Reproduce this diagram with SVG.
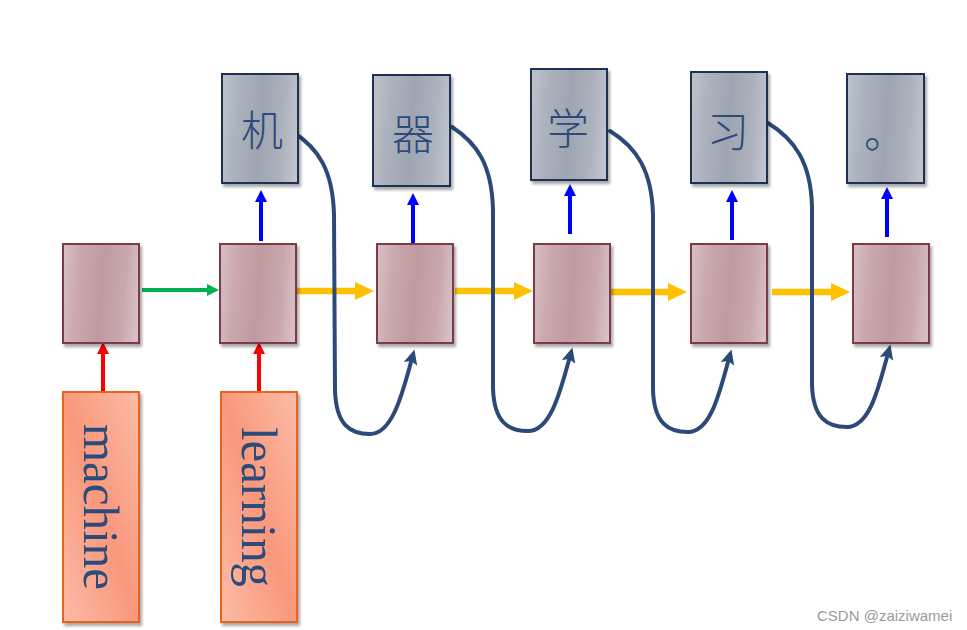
<svg xmlns="http://www.w3.org/2000/svg" width="967" height="630" viewBox="0 0 967 630">
<style>
.gray{fill:url(#gGray);stroke:#1d3354;stroke-width:2;filter:url(#sh)}
.mauve{fill:url(#gMauve);stroke:#7b3b4b;stroke-width:2;filter:url(#sh)}
.orange{fill:url(#gOrange);stroke:#e8631c;stroke-width:2;filter:url(#sh)}
.cjk{font-family:"Noto Sans CJK SC","Noto Sans CJK JP",sans-serif;font-size:42px;font-weight:300;fill:#2d4b7a;text-anchor:middle;dominant-baseline:central}
.word{font-family:"Liberation Serif",serif;font-size:51px;fill:#2d4b7a;text-anchor:middle}
.yel{stroke:#ffc000;stroke-width:6.5;fill:none;marker-end:url(#mY)}
.grn{stroke:#00b050;stroke-width:4;fill:none;marker-end:url(#mG)}
.blu{stroke:#0000ff;stroke-width:4;fill:none;marker-end:url(#mB)}
.red{stroke:#ff0000;stroke-width:4;fill:none;marker-end:url(#mR)}
.crv{stroke:#2b4a78;stroke-width:4;fill:none;marker-end:url(#mN);stroke-linecap:round}
</style>
<defs>
<linearGradient id="gGray" x1="0" y1="0.45" x2="1" y2="0.55">
<stop offset="0" stop-color="#bbc0c9"/><stop offset="0.2" stop-color="#acb2bd"/><stop offset="0.5" stop-color="#9ea5b1"/><stop offset="0.8" stop-color="#adb2bd"/><stop offset="1" stop-color="#c0c4cc"/>
</linearGradient>
<linearGradient id="gMauve" x1="0" y1="0.45" x2="1" y2="0.55">
<stop offset="0" stop-color="#d5bcc0"/><stop offset="0.2" stop-color="#caa8ad"/><stop offset="0.5" stop-color="#c09aa0"/><stop offset="0.8" stop-color="#c9a8ad"/><stop offset="1" stop-color="#d7c0c4"/>
</linearGradient>
<linearGradient id="gOrange" x1="1" y1="0" x2="0" y2="1">
<stop offset="0" stop-color="#fcbca8"/><stop offset="0.5" stop-color="#f9987b"/><stop offset="1" stop-color="#fcbca8"/>
</linearGradient>
<filter id="sh" x="-10%" y="-10%" width="130%" height="130%">
<feDropShadow dx="2" dy="3" stdDeviation="1.8" flood-color="#000" flood-opacity="0.35"/>
</filter>
<marker id="mY" viewBox="0 0 20 18" refX="1" refY="9" markerWidth="20" markerHeight="18" markerUnits="userSpaceOnUse" orient="auto"><path d="M0,0 L19,9 L0,18 z" fill="#ffc000"/></marker>
<marker id="mG" viewBox="0 0 13 12" refX="1" refY="6" markerWidth="13" markerHeight="12" markerUnits="userSpaceOnUse" orient="auto"><path d="M0,0 L12,6 L0,12 z" fill="#00b050"/></marker>
<marker id="mB" viewBox="0 0 13 12" refX="1" refY="6" markerWidth="13" markerHeight="12" markerUnits="userSpaceOnUse" orient="auto"><path d="M0,0 L12,6 L0,12 z" fill="#0000ff"/></marker>
<marker id="mR" viewBox="0 0 13 12" refX="1" refY="6" markerWidth="13" markerHeight="12" markerUnits="userSpaceOnUse" orient="auto"><path d="M0,0 L12,6 L0,12 z" fill="#ff0000"/></marker>
<marker id="mN" viewBox="0 0 16 14" refX="2" refY="7" markerWidth="16" markerHeight="14" markerUnits="userSpaceOnUse" orient="auto"><path d="M0,0 L15,7 L0,14 L3,7 z" fill="#2b4a78"/></marker>
</defs>
<rect width="967" height="630" fill="#ffffff"/>

<g id="connectors">
<line class="grn" x1="142" y1="290" x2="208" y2="290"/>
<line class="yel" x1="297" y1="291" x2="356" y2="291"/>
<line class="yel" x1="455" y1="291" x2="515" y2="291"/>
<line class="yel" x1="610" y1="292" x2="669" y2="292"/>
<line class="yel" x1="772" y1="292" x2="832" y2="292"/>
<line class="blu" x1="261" y1="241" x2="261" y2="201"/>
<line class="blu" x1="413" y1="243" x2="413" y2="204"/>
<line class="blu" x1="570" y1="234" x2="570" y2="195"/>
<line class="blu" x1="732" y1="240" x2="732" y2="201"/>
<line class="blu" x1="887" y1="237" x2="887" y2="198"/>
<line class="red" x1="103" y1="392" x2="103" y2="353"/>
<line class="red" x1="259" y1="392" x2="259" y2="353"/>
<path class="crv" d="M293,132 C318,148 333,170 334,215 L335,390 C336,425 350,434 370,434 C392,434 402,395 411,362"/>
<path class="crv" d="M452,127 C477,143 492,165 493,210 L493,388 C494,422 508,431 528,431 C550,431 560,393 569,360"/>
<path class="crv" d="M610,131 C636,147 652,170 653,215 L653,390 C654,423 668,432 688,432 C710,432 719,395 728,362"/>
<path class="crv" d="M768,123 C794,139 811,162 812,207 L812,385 C813,418 827,427 847,427 C869,427 878,390 887,357"/>
</g>

<g id="h1"><rect class="mauve" x="63" y="244" width="76" height="99"/></g>
<g id="h2"><rect class="mauve" x="220" y="244" width="76" height="99"/></g>
<g id="h3"><rect class="mauve" x="377" y="244" width="76" height="99"/></g>
<g id="h4"><rect class="mauve" x="534" y="244" width="76" height="99"/></g>
<g id="h5"><rect class="mauve" x="691" y="244" width="76" height="99"/></g>
<g id="h6"><rect class="mauve" x="853" y="244" width="76" height="99"/></g>

<g id="o1"><rect class="gray" x="222" y="74" width="76" height="109"/><text class="cjk" x="262" y="127">机</text></g>
<g id="o2"><rect class="gray" x="373" y="75" width="77" height="111"/><text class="cjk" x="413" y="131">器</text></g>
<g id="o3"><rect class="gray" x="531" y="69" width="76" height="111"/><text class="cjk" x="568" y="125">学</text></g>
<g id="o4"><rect class="gray" x="691" y="72" width="76" height="111"/><text class="cjk" x="728" y="128">习</text></g>
<g id="o5"><rect class="gray" x="847" y="74" width="77" height="109"/><text class="cjk" x="885" y="129">。</text></g>

<g id="in1"><rect class="orange" x="63" y="392" width="76" height="230"/><text class="word" transform="translate(84,507) rotate(90)" x="0" y="0" textLength="166" lengthAdjust="spacingAndGlyphs">machine</text></g>
<g id="in2"><rect class="orange" x="221" y="392" width="76" height="230"/><text class="word" transform="translate(242,507) rotate(90)" x="0" y="0" textLength="160" lengthAdjust="spacingAndGlyphs">learning</text></g>

<text x="817" y="621" font-family="Liberation Sans, Arial, sans-serif" font-size="15" fill="#9a9a9a">CSDN @zaiziwamei</text>
</svg>
